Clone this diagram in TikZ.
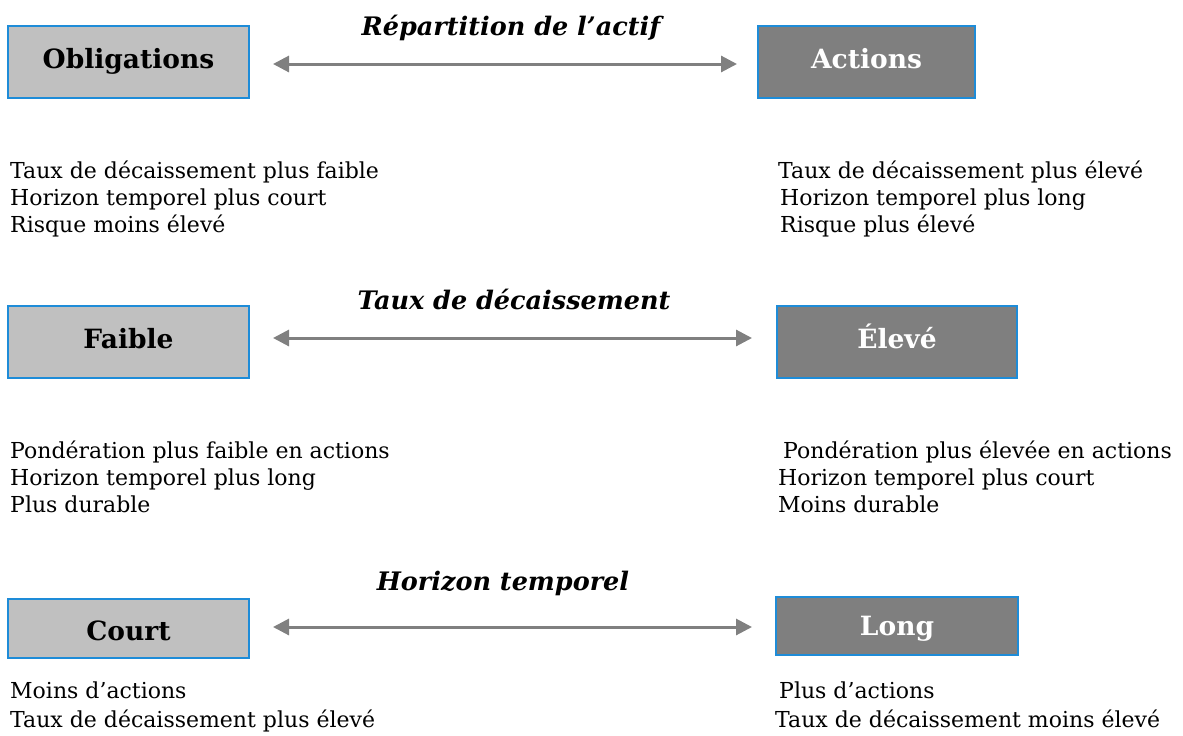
\documentclass[tikz,border=0pt]{standalone}
\usepackage{fontspec}
\setmainfont{DejaVu Serif}
\usetikzlibrary{arrows.meta}
\definecolor{boxblue}{HTML}{1E8CD8}
\definecolor{lightg}{HTML}{C0C0C0}
\definecolor{darkg}{HTML}{7F7F7F}
\definecolor{arrowg}{HTML}{808080}
\begin{document}
\begin{tikzpicture}[x=1pt,y=-1pt,
  boxl/.style={draw=boxblue, line width=1.8pt, fill=lightg, inner sep=0pt},
  boxd/.style={draw=boxblue, line width=1.8pt, fill=darkg, inner sep=0pt},
  lbl/.style={anchor=base, inner sep=0pt, font=\fontsize{26.5}{30}\selectfont\bfseries},
  lblw/.style={lbl, text=white},
  ttl/.style={anchor=base, inner sep=0pt, font=\fontsize{25.5}{30}\selectfont\bfseries\itshape},
  body/.style={anchor=base west, inner sep=0pt, font=\fontsize{22}{27}\selectfont},
  dbl/.style={{Triangle[length=16pt,width=16pt]}-{Triangle[length=16pt,width=16pt]}, line width=3pt, draw=arrowg}
]
\useasboundingbox (0,0) rectangle (1183,736);

% Row 1
\node[boxl, minimum width=241pt, minimum height=72pt] (oblig) at (128.5,62) {};
\node[boxd, minimum width=217pt, minimum height=72pt] (actions) at (866.5,62) {};
\node[lbl] (obligt) at (128.5,68) {Obligations};
\node[lblw] (actionst) at (866.5,68) {Actions};
\node[ttl] (t1) at (511,35) {Répartition de l’actif};
\coordinate (a1l) at (273,64);
\coordinate (a1r) at (737,64);
\draw[dbl] (a1l) -- (a1r);
\node[body] (l11) at (10,178) {Taux de décaissement plus faible};
\node[body] (l12) at (10,205) {Horizon temporel plus court};
\node[body] (l13) at (10,232) {Risque moins élevé};
\node[body] (r11) at (778,178) {Taux de décaissement plus élevé};
\node[body] (r12) at (780,205) {Horizon temporel plus long};
\node[body] (r13) at (780,232) {Risque plus élevé};

% Row 2
\node[boxl, minimum width=241pt, minimum height=72pt] (faible) at (128.5,342) {};
\node[boxd, minimum width=240pt, minimum height=72pt] (eleve) at (897,342) {};
\node[lbl] (faiblet) at (128.5,348) {Faible};
\node[lblw] (elevet) at (897,348) {Élevé};
\node[ttl] (t2) at (514,309) {Taux de décaissement};
\coordinate (a2l) at (273,338);
\coordinate (a2r) at (752,338);
\draw[dbl] (a2l) -- (a2r);
\node[body] (l21) at (10,458) {Pondération plus faible en actions};
\node[body] (l22) at (10,485) {Horizon temporel plus long};
\node[body] (l23) at (10,512) {Plus durable};
\node[body] (r21) at (783,458) {Pondération plus élevée en actions};
\node[body] (r22) at (778,485) {Horizon temporel plus court};
\node[body] (r23) at (778,512) {Moins durable};

% Row 3
\node[boxl, minimum width=241pt, minimum height=59pt] (court) at (128.5,628.5) {};
\node[boxd, minimum width=242pt, minimum height=58pt] (long) at (897,626) {};
\node[lbl] (courtt) at (128.5,640) {Court};
\node[lblw] (longt) at (897,635) {Long};
\node[ttl] (t3) at (503,590) {Horizon temporel};
\coordinate (a3l) at (273,627);
\coordinate (a3r) at (752,627);
\draw[dbl] (a3l) -- (a3r);
\node[body] (l31) at (10,698) {Moins d’actions};
\node[body] (l32) at (10,727) {Taux de décaissement plus élevé};
\node[body] (r31) at (779,698) {Plus d’actions};
\node[body] (r32) at (775,727) {Taux de décaissement moins élevé};
\end{tikzpicture}
\end{document}
